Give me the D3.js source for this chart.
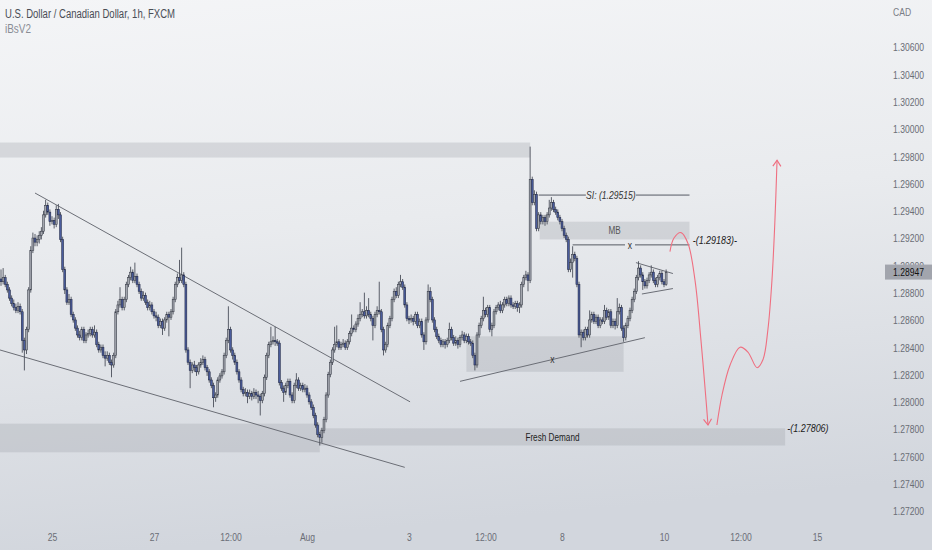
<!DOCTYPE html>
<html><head><meta charset="utf-8">
<script src="https://cdnjs.cloudflare.com/ajax/libs/d3/7.8.5/d3.min.js"></script>
<style>html,body{margin:0;padding:0;overflow:hidden;background:#eceef1}svg{display:block}</style>
</head><body>
<svg id="chart" width="932" height="550"></svg>
<script>
// ---------------- DATA (USD/CAD 1h, FXCM) ----------------
const firstOpen = 1.2890;
const closes = [
1.2888,1.2891,1.2886,1.2882,1.2876,1.2872,1.2869,1.2867,1.2870,1.2866,
1.2845,1.2838,1.2853,1.2882,1.2911,1.2920,1.2917,1.2919,1.2922,1.2925,
1.2937,1.2944,1.2939,1.2932,1.2933,1.2930,1.2941,1.2937,1.2919,1.2897,
1.2882,1.2873,1.2875,1.2864,1.2860,1.2854,1.2849,1.2847,1.2853,1.2845,
1.2849,1.2850,1.2853,1.2849,1.2851,1.2842,1.2838,1.2840,1.2834,1.2832,
1.2834,1.2829,1.2827,1.2834,1.2866,1.2871,1.2875,1.2869,1.2875,1.2886,
1.2891,1.2895,1.2889,1.2892,1.2886,1.2881,1.2876,1.2878,1.2873,1.2869,
1.2871,1.2866,1.2863,1.2862,1.2856,1.2859,1.2854,1.2860,1.2864,1.2862,
1.2866,1.2875,1.2886,1.2891,1.2889,1.2893,1.2886,1.2838,1.2829,1.2823,
1.2827,1.2825,1.2822,1.2827,1.2829,1.2831,1.2825,1.2822,1.2816,1.2812,
1.2803,1.2805,1.2816,1.2819,1.2822,1.2834,1.2845,1.2853,1.2838,1.2834,
1.2829,1.2822,1.2816,1.2809,1.2806,1.2807,1.2804,1.2806,1.2804,1.2807,
1.2805,1.2804,1.2801,1.2806,1.2818,1.2834,1.2842,1.2844,1.2845,1.2844,
1.2843,1.2814,1.2810,1.2807,1.2812,1.2815,1.2805,1.2801,1.2812,1.2816,
1.2810,1.2812,1.2809,1.2810,1.2805,1.2800,1.2796,1.2790,1.2783,1.2776,
1.2774,1.2779,1.2787,1.2805,1.2820,1.2829,1.2838,1.2842,1.2844,1.2840,
1.2842,1.2843,1.2840,1.2844,1.2850,1.2854,1.2853,1.2857,1.2861,1.2864,
1.2866,1.2863,1.2867,1.2864,1.2861,1.2856,1.2864,1.2867,1.2866,1.2853,
1.2838,1.2842,1.2856,1.2861,1.2875,1.2881,1.2878,1.2886,1.2888,1.2884,
1.2871,1.2861,1.2860,1.2861,1.2859,1.2864,1.2856,1.2859,1.2849,1.2844,
1.2860,1.2881,1.2875,1.2860,1.2853,1.2848,1.2845,1.2842,1.2844,1.2842,
1.2845,1.2853,1.2847,1.2843,1.2845,1.2842,1.2847,1.2849,1.2845,1.2848,
1.2844,1.2843,1.2834,1.2827,1.2849,1.2856,1.2861,1.2867,1.2864,1.2869,
1.2853,1.2856,1.2866,1.2869,1.2871,1.2867,1.2871,1.2875,1.2872,1.2876,
1.2871,1.2870,1.2872,1.2869,1.2871,1.2886,1.2891,1.2893,1.2889,1.2963,
1.2946,1.2952,1.2927,1.2937,1.2932,1.2935,1.2932,1.2937,1.2942,1.2946,
1.2941,1.2939,1.2935,1.2932,1.2927,1.2922,1.2919,1.2897,1.2902,1.2908,
1.2905,1.2886,1.2849,1.2851,1.2847,1.2853,1.2849,1.2860,1.2864,1.2859,
1.2862,1.2856,1.2860,1.2859,1.2867,1.2862,1.2866,1.2856,1.2859,1.2856,
1.2866,1.2869,1.2854,1.2847,1.2856,1.2861,1.2867,1.2875,1.2881,1.2891,
1.2898,1.2893,1.2888,1.2885,1.2889,1.2893,1.2895,1.2889,1.2886,1.2891,
1.2894,1.2888,1.2886,1.28947];
const highs = [
1.2897,1.2898,1.2893,1.2888,1.2884,1.2878,1.2875,1.2872,1.2873,1.2872,
1.2868,1.2847,1.2855,1.2884,1.2914,1.2924,1.2923,1.2922,1.2925,1.2928,
1.2940,1.2948,1.2946,1.2941,1.2936,1.2935,1.2944,1.2945,1.2939,1.2921,
1.2899,1.2884,1.2879,1.2877,1.2866,1.2862,1.2856,1.2852,1.2855,1.2855,
1.2851,1.2853,1.2855,1.2855,1.2856,1.2853,1.2844,1.2842,1.2842,1.2837,
1.2837,1.2836,1.2831,1.2836,1.2868,1.2874,1.2884,1.2877,1.2877,1.2888,
1.2893,1.2899,1.2897,1.2902,1.2894,1.2888,1.2883,1.2881,1.2880,1.2875,
1.2874,1.2873,1.2868,1.2866,1.2864,1.2861,1.2861,1.2862,1.2866,1.2866,
1.2868,1.2877,1.2888,1.2894,1.2904,1.2913,1.2895,1.2888,1.2840,1.2831,
1.2829,1.2830,1.2827,1.2829,1.2832,1.2834,1.2833,1.2827,1.2824,1.2818,
1.2814,1.2807,1.2818,1.2821,1.2824,1.2836,1.2847,1.2870,1.2855,1.2840,
1.2836,1.2831,1.2824,1.2818,1.2811,1.2810,1.2809,1.2809,1.2808,1.2810,
1.2809,1.2808,1.2806,1.2808,1.2820,1.2836,1.2844,1.2855,1.2848,1.2855,
1.2846,1.2845,1.2816,1.2812,1.2814,1.2817,1.2817,1.2807,1.2814,1.2821,
1.2818,1.2814,1.2814,1.2813,1.2812,1.2807,1.2802,1.2798,1.2792,1.2785,
1.2778,1.2781,1.2789,1.2807,1.2822,1.2831,1.2840,1.2855,1.2856,1.2846,
1.2844,1.2846,1.2845,1.2846,1.2852,1.2864,1.2856,1.2859,1.2864,1.2873,
1.2868,1.2880,1.2870,1.2876,1.2866,1.2863,1.2866,1.2870,1.2888,1.2868,
1.2855,1.2844,1.2858,1.2863,1.2877,1.2883,1.2884,1.2888,1.2893,1.2890,
1.2886,1.2873,1.2863,1.2864,1.2863,1.2866,1.2866,1.2861,1.2861,1.2851,
1.2862,1.2886,1.2884,1.2877,1.2862,1.2855,1.2850,1.2847,1.2846,1.2846,
1.2847,1.2858,1.2855,1.2849,1.2848,1.2847,1.2849,1.2852,1.2851,1.2850,
1.2850,1.2846,1.2845,1.2836,1.2851,1.2858,1.2863,1.2877,1.2869,1.2871,
1.2871,1.2858,1.2868,1.2871,1.2873,1.2874,1.2873,1.2877,1.2877,1.2878,
1.2878,1.2873,1.2874,1.2874,1.2873,1.2888,1.2893,1.2896,1.2895,1.2987,
1.2965,1.2955,1.2954,1.2939,1.2939,1.2937,1.2937,1.2939,1.2948,1.2950,
1.2948,1.2943,1.2941,1.2937,1.2934,1.2929,1.2924,1.2921,1.2905,1.2914,
1.2910,1.2907,1.2888,1.2853,1.2853,1.2855,1.2855,1.2867,1.2866,1.2866,
1.2864,1.2864,1.2862,1.2862,1.2871,1.2869,1.2868,1.2868,1.2861,1.2861,
1.2876,1.2872,1.2871,1.2856,1.2858,1.2863,1.2869,1.2877,1.2883,1.2893,
1.2903,1.2900,1.2895,1.2890,1.2891,1.2895,1.2900,1.2897,1.2891,1.2893,
1.2896,1.2896,1.2890,1.2897];
const lows = [
1.2885,1.2886,1.2884,1.2880,1.2874,1.2870,1.2867,1.2865,1.2865,1.2864,
1.2836,1.2823,1.2835,1.2851,1.2880,1.2909,1.2914,1.2914,1.2916,1.2919,
1.2923,1.2935,1.2937,1.2929,1.2930,1.2927,1.2928,1.2934,1.2917,1.2895,
1.2879,1.2871,1.2871,1.2862,1.2858,1.2852,1.2847,1.2845,1.2845,1.2843,
1.2843,1.2847,1.2848,1.2847,1.2847,1.2840,1.2836,1.2836,1.2832,1.2826,
1.2830,1.2827,1.2818,1.2825,1.2832,1.2864,1.2869,1.2867,1.2867,1.2873,
1.2884,1.2889,1.2887,1.2887,1.2884,1.2879,1.2874,1.2874,1.2871,1.2867,
1.2867,1.2864,1.2861,1.2859,1.2854,1.2854,1.2849,1.2852,1.2858,1.2848,
1.2860,1.2864,1.2873,1.2884,1.2887,1.2887,1.2884,1.2836,1.2827,1.2810,
1.2821,1.2822,1.2819,1.2820,1.2825,1.2827,1.2823,1.2819,1.2814,1.2810,
1.2796,1.2800,1.2803,1.2814,1.2817,1.2820,1.2832,1.2843,1.2836,1.2831,
1.2827,1.2820,1.2814,1.2807,1.2804,1.2804,1.2799,1.2802,1.2801,1.2802,
1.2802,1.2799,1.2790,1.2799,1.2804,1.2816,1.2832,1.2840,1.2842,1.2841,
1.2841,1.2812,1.2808,1.2800,1.2805,1.2810,1.2803,1.2799,1.2799,1.2810,
1.2808,1.2808,1.2807,1.2807,1.2803,1.2798,1.2794,1.2788,1.2781,1.2774,
1.2768,1.2770,1.2777,1.2785,1.2803,1.2818,1.2827,1.2836,1.2840,1.2838,
1.2838,1.2840,1.2838,1.2838,1.2842,1.2848,1.2851,1.2851,1.2855,1.2859,
1.2862,1.2861,1.2861,1.2862,1.2859,1.2845,1.2854,1.2862,1.2864,1.2851,
1.2834,1.2836,1.2840,1.2854,1.2859,1.2873,1.2876,1.2876,1.2884,1.2882,
1.2869,1.2859,1.2857,1.2858,1.2856,1.2857,1.2854,1.2854,1.2847,1.2838,
1.2842,1.2858,1.2873,1.2858,1.2851,1.2846,1.2843,1.2840,1.2840,1.2839,
1.2840,1.2843,1.2845,1.2841,1.2841,1.2839,1.2840,1.2845,1.2843,1.2843,
1.2842,1.2841,1.2832,1.2823,1.2825,1.2847,1.2854,1.2859,1.2862,1.2862,
1.2851,1.2848,1.2854,1.2864,1.2867,1.2865,1.2865,1.2869,1.2870,1.2870,
1.2869,1.2868,1.2868,1.2866,1.2865,1.2869,1.2884,1.2889,1.2881,1.2887,
1.2944,1.2944,1.2925,1.2925,1.2930,1.2930,1.2929,1.2930,1.2935,1.2940,
1.2939,1.2937,1.2933,1.2930,1.2925,1.2920,1.2917,1.2895,1.2895,1.2891,
1.2903,1.2884,1.2847,1.2840,1.2845,1.2845,1.2847,1.2847,1.2858,1.2857,
1.2857,1.2854,1.2854,1.2857,1.2857,1.2860,1.2860,1.2854,1.2854,1.2853,
1.2854,1.2864,1.2852,1.2844,1.2845,1.2854,1.2859,1.2865,1.2873,1.2879,
1.2889,1.2891,1.2882,1.2883,1.2883,1.2887,1.2891,1.2887,1.2884,1.2884,
1.2889,1.2886,1.2884,1.2885];

// time axis: bar index of each label, and the label text
const xTickIndex  = [24, 72, 108, 144, 192, 228, 264, 312, 348, 384];
const xTickLabels = ["25", "27", "12:00", "Aug", "3", "12:00", "8", "10", "12:00", "15"];
// price axis ticks
const yTicks = [1.306,1.304,1.302,1.300,1.298,1.296,1.294,1.292,1.290,1.288,1.286,1.284,1.282,1.280,1.278,1.276,1.274,1.272];
const lastPrice = 1.28947;

// drawings (bar index, price)
const zones = [
  {name:"supply",       i0:-1,    i1:249, p0:1.2979, p1:1.2990, label:""},
  {name:"oldDemand",    i0:-1,    i1:150, p0:1.2763, p1:1.2784, label:""},
  {name:"freshDemand",  i0:150,   i1:369, p0:1.2768, p1:1.27806, label:"Fresh Demand"},
  {name:"xZone",        i0:219,   i1:293, p0:1.2822, p1:1.2848, label:""},
  {name:"MB",           i0:253.5, i1:324, p0:1.2919, p1:1.2932, label:"MB"}
];
const trendLines = [
  {i0:16,    p0:1.2953,  i1:192.5, p1:1.2800},
  {i0:-0.5,  p0:1.2838,  i1:190,   p1:1.2752},
  {i0:216,   p0:1.2815,  i1:303,   p1:1.2847},
  {i0:298.8, p0:1.2902,  i1:316.2, p1:1.2894},
  {i0:301.6, p0:1.2879,  i1:316.2, p1:1.2883}
];
const siLevel = {i0:253, i1:324, p:1.29515, labelAt:287, text:"SI: (1.29515)"};
const xLevel  = {i0:269, i1:324, p:1.2915,  labelAt:296, text:"x"};
const priceNotes = [
  {i:325.5, p:1.29183, text:"-(1.29183)-"},
  {i:370,   p:1.27806, text:"-(1.27806)"}
];
const trendX = {i:259.5, p:1.2831, text:"x"};
const pathDown = [[314.8,1.2910],[316.7,1.2920],[320,1.2924],[323.3,1.2916],[326.6,1.2889],[329.4,1.2845],[331.8,1.2801],[332.7,1.2783]];
const pathUp   = [[336.9,1.2783],[339.3,1.2805],[343.1,1.2827],[347.8,1.2840],[351.5,1.28365],[355.8,1.2825],[358.6,1.2831],[360.9,1.2853],[362.8,1.2889],[364.2,1.2933],[365.2,1.2977]];

// ---------------- DRAW ----------------
const W = 932, H = 550, SX = 0.78;
const svg = d3.select("#chart");
const x = d3.scaleLinear().domain([0, 400]).range([1, 851]);
const y = d3.scaleLinear().domain([1.272, 1.306]).range([511, 47]);

const defs = svg.append("defs");
const bg = defs.append("linearGradient").attr("id","bg").attr("x1",0).attr("y1",0).attr("x2",0.15).attr("y2",1);
bg.append("stop").attr("offset","0%").attr("stop-color","#f4f5f7");
bg.append("stop").attr("offset","45%").attr("stop-color","#e9ebee");
bg.append("stop").attr("offset","100%").attr("stop-color","#d2d6dd");
svg.append("rect").attr("width",W).attr("height",H).attr("fill","url(#bg)");

defs.append("clipPath").attr("id","plotClip").append("rect").attr("x",0).attr("y",0).attr("width",870).attr("height",522);

const mk = defs.append("marker").attr("id","arrow").attr("viewBox","-8 -5 10 10")
  .attr("refX",0).attr("refY",0).attr("markerWidth",10).attr("markerHeight",10)
  .attr("markerUnits","userSpaceOnUse").attr("orient","auto");
mk.append("path").attr("d","M-6,-4L0,0L-6,4").attr("fill","none").attr("stroke","#ef6f80").attr("stroke-width",1.2);

const FONT = "'Liberation Sans', Arial, sans-serif";
function txt(g, px, py, s, o) {
  o = o || {};
  return g.append("text")
    .attr("transform", `translate(${px},${py}) scale(${SX},1)`)
    .attr("text-anchor", o.anchor || "start")
    .attr("dominant-baseline", o.base || "central")
    .attr("font-family", FONT)
    .attr("font-size", o.size || 11)
    .attr("font-style", o.italic ? "italic" : "normal")
    .attr("fill", o.color || "#333")
    .text(s);
}

const plot = svg.append("g").attr("clip-path","url(#plotClip)");

// zones
plot.selectAll("rect.zone").data(zones).join("rect").attr("class","zone")
  .attr("x", d => x(d.i0)).attr("width", d => x(d.i1) - x(d.i0))
  .attr("y", d => y(d.p1)).attr("height", d => y(d.p0) - y(d.p1))
  .attr("fill", "rgba(150,153,161,0.28)");
zones.filter(d => d.label).forEach(d => {
  txt(plot, (x(d.i0)+x(d.i1))/2, y((d.p0+d.p1)/2), d.label, {anchor:"middle", size:10.5, color: d.name==="MB" ? "#555" : "#222"});
});

// trend lines
plot.selectAll("line.trend").data(trendLines).join("line").attr("class","trend")
  .attr("x1", d => x(d.i0)).attr("y1", d => y(d.p0)).attr("x2", d => x(d.i1)).attr("y2", d => y(d.p1))
  .attr("stroke","#6b6e76").attr("stroke-width",1);

// level lines with center labels
[siLevel, xLevel].forEach((L, k) => {
  const gap = k === 0 ? 25 : 5;
  const cx = x(L.labelAt), yy = y(L.p);
  plot.append("line").attr("x1", x(L.i0)).attr("x2", cx - gap).attr("y1", yy).attr("y2", yy).attr("stroke","#555a63").attr("stroke-width",1);
  plot.append("line").attr("x1", cx + gap).attr("x2", x(L.i1)).attr("y1", yy).attr("y2", yy).attr("stroke","#555a63").attr("stroke-width",1);
  txt(plot, cx, yy, L.text, {anchor:"middle", size:11, italic: k === 0, color:"#333"});
});
txt(plot, x(trendX.i), y(trendX.p), trendX.text, {anchor:"middle", size:11, color:"#333"});
priceNotes.forEach(n => txt(plot, x(n.i), y(n.p), n.text, {size:11.5, italic:true, color:"#222"}));

// candles
const candles = closes.map((c, i) => ({i, o: i === 0 ? firstOpen : closes[i-1], h: highs[i], l: lows[i], c}));
const cg = plot.append("g");
cg.selectAll("line.wick").data(candles).join("line").attr("class","wick")
  .attr("x1", d => x(d.i)).attr("x2", d => x(d.i))
  .attr("y1", d => y(d.h)).attr("y2", d => y(d.l))
  .attr("stroke", "#4b4f5a").attr("stroke-width", 0.9);
cg.selectAll("rect.body").data(candles).join("rect").attr("class","body")
  .attr("x", d => x(d.i) - 0.95).attr("width", 1.9)
  .attr("y", d => y(Math.max(d.o, d.c)))
  .attr("height", d => Math.max(0.8, Math.abs(y(d.o) - y(d.c))))
  .attr("fill", d => d.c >= d.o ? "#a3a6ae" : "#4a5c9c")
  .attr("stroke", d => d.c >= d.o ? "#363a45" : "#242a45").attr("stroke-width", 0.55);

// projection curves
const line = d3.line().x(d => x(d[0])).y(d => y(d[1])).curve(d3.curveCatmullRom.alpha(0.5));
[pathDown, pathUp].forEach(p => plot.append("path").attr("d", line(p)).attr("fill","none")
  .attr("stroke","#ef6f80").attr("stroke-width",1.1).attr("marker-end","url(#arrow)"));

// price axis
const yAxis = d3.axisRight(y).tickValues(yTicks).tickFormat(d3.format(".5f")).tickSize(0).tickPadding(0);
const ya = svg.append("g").attr("transform","translate(893,0)").call(yAxis);
ya.select(".domain").remove();
ya.selectAll("text").attr("font-family", FONT).attr("font-size", 11).attr("fill", "#6a6d76")
  .attr("transform", `scale(${SX},1)`).attr("dy","0.35em");

// last price tag (covers the 1.29000 label, as on the reference)
svg.append("rect").attr("x",885).attr("y", y(lastPrice) - 8).attr("width",47).attr("height",15).attr("fill","#a2a5ad");
txt(svg, 893, y(lastPrice) - 0.5, d3.format(".5f")(lastPrice), {size:11, color:"#111"});
txt(svg, 893, 12, "CAD", {size:11, color:"#7a7d86"});

// time axis
const xAxis = d3.axisBottom(x).tickValues(xTickIndex).tickFormat((d, k) => xTickLabels[k]).tickSize(0).tickPadding(0);
const xa = svg.append("g").attr("transform","translate(0,537)").call(xAxis);
xa.select(".domain").remove();
xa.selectAll("text").attr("font-family", FONT).attr("font-size", 11).attr("fill", "#6a6d76")
  .attr("transform", `scale(${SX},1)`).attr("dy","0.35em").attr("y",0);

// title
svg.append("text").attr("x",5).attr("y",18).attr("font-family",FONT).attr("font-size",12.5).attr("fill","#4a4d55")
  .attr("textLength",170).attr("lengthAdjust","spacingAndGlyphs").text("U.S. Dollar / Canadian Dollar, 1h, FXCM");
svg.append("text").attr("x",5).attr("y",33).attr("font-family",FONT).attr("font-size",12).attr("fill","#8a8d95")
  .attr("textLength",26).attr("lengthAdjust","spacingAndGlyphs").text("iBsV2");
</script>
</body></html>
